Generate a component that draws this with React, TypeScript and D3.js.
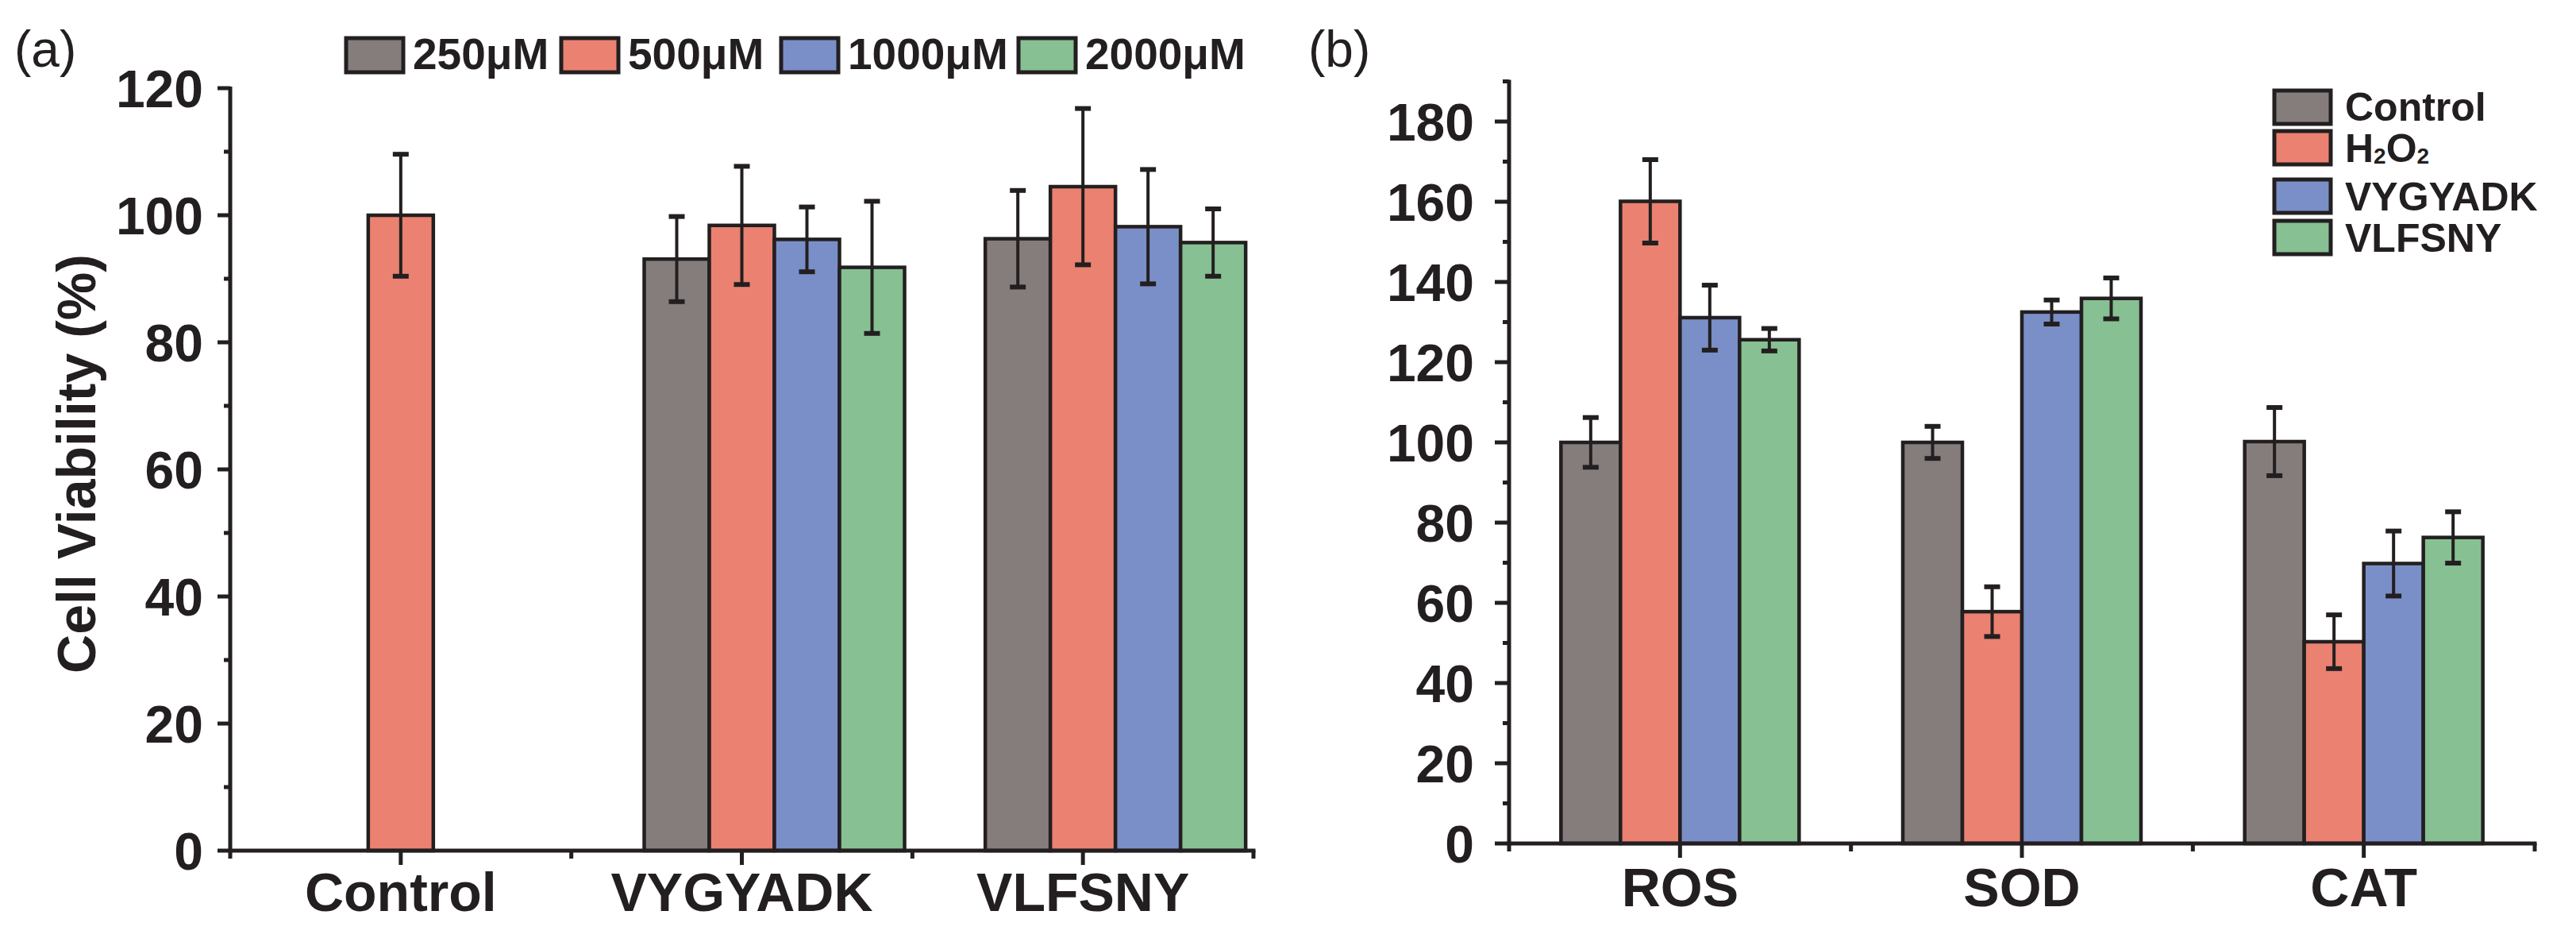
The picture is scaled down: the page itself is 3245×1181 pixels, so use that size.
import React from "react";
import * as d3 from "d3";

// ---------- Panel (a) data ----------
const catsA = ["Control", "VYGYADK", "VLFSNY"];
const seriesA = ["250μM", "500μM", "1000μM", "2000μM"];
const valsA: (number | null)[][] = [
  [null, 93.1, 96.3],
  [100.0, 98.4, 104.5],
  [null, 96.2, 98.2],
  [null, 91.8, 95.7],
];
const errsA: (number | null)[][] = [
  [null, 6.7, 7.6],
  [9.6, 9.3, 12.3],
  [null, 5.1, 9.0],
  [null, 10.4, 5.3],
];
const ticksA = [0, 20, 40, 60, 80, 100, 120];
const minorA = [10, 30, 50, 70, 90, 110];

// ---------- Panel (b) data ----------
const catsB = ["ROS", "SOD", "CAT"];
const seriesB = ["Control", "H2O2", "VYGYADK", "VLFSNY"];
const valsB: number[][] = [
  [100, 100, 100.2],
  [160.1, 57.8, 50.3],
  [131.1, 132.5, 69.8],
  [125.6, 135.9, 76.3],
];
const errsB: number[][] = [
  [6.2, 4.0, 8.5],
  [10.4, 6.2, 6.7],
  [8.1, 3.0, 8.1],
  [2.8, 5.1, 6.4],
];
const ticksB = [0, 20, 40, 60, 80, 100, 120, 140, 160, 180];
const minorB = [10, 30, 50, 70, 90, 110, 130, 150, 170, 190];

const colors = ["#857d7c", "#ea8171", "#7a8fc7", "#86c093"];
const ink = "#231f20";
const FONT = "'Liberation Sans', Arial, sans-serif";

const W = 3245;
const H = 1181;

function ErrorBar({ x, y0, y1 }: { x: number; y0: number; y1: number }) {
  return (
    <g stroke={ink}>
      <line x1={x} x2={x} y1={y0} y2={y1} strokeWidth={4} />
      <line x1={x - 10} x2={x + 10} y1={y0} y2={y0} strokeWidth={6} />
      <line x1={x - 10} x2={x + 10} y1={y1} y2={y1} strokeWidth={6} />
    </g>
  );
}

export default function App() {
  // Panel a scales
  const xA = d3.scaleLinear().domain([0.5, 3.5]).range([290, 1579]);
  const yA = d3.scaleLinear().domain([0, 120]).range([1071, 111]);
  const bwA = 82;
  const offA = d3
    .scaleBand<string>()
    .domain(seriesA)
    .range([-1.5 * bwA, 2.5 * bwA])
    .padding(0);

  // Panel b scales
  const xB = d3.scaleLinear().domain([0.5, 3.5]).range([1901, 3193]);
  const yB = d3.scaleLinear().domain([0, 190]).range([1062, 102.5]);
  const bwB = 75;
  const offB = d3
    .scaleBand<string>()
    .domain(seriesB)
    .range([-2 * bwB, 2 * bwB])
    .padding(0);

  const tickFont = 66;
  const catFont = 68;

  return (
    <svg
      width={W}
      height={H}
      style={{ position: "absolute", left: 0, top: 0, background: "#fff" }}
      fontFamily={FONT}
    >
      <rect x={0} y={0} width={W} height={H} fill="#fff" />

      {/* ================= Panel (a) ================= */}
      <text x={18} y={84} fontSize={64} fill={ink}>(a)</text>

      {/* bars */}
      {seriesA.map((s, si) =>
        catsA.map((c, ci) => {
          const v = valsA[si][ci];
          if (v == null) return null;
          const x0 = xA(ci + 1) + (offA(s) as number);
          return (
            <rect
              key={`a-${si}-${ci}`}
              x={x0}
              y={yA(v)}
              width={offA.bandwidth()}
              height={yA(0) - yA(v)}
              fill={colors[si]}
              stroke={ink}
              strokeWidth={4.5}
            />
          );
        })
      )}
      {seriesA.map((s, si) =>
        catsA.map((c, ci) => {
          const v = valsA[si][ci];
          const e = errsA[si][ci];
          if (v == null || e == null) return null;
          const xc = xA(ci + 1) + (offA(s) as number) + offA.bandwidth() / 2;
          return <ErrorBar key={`ae-${si}-${ci}`} x={xc} y0={yA(v + e)} y1={yA(v - e)} />;
        })
      )}

      {/* y axis a */}
      <line x1={xA(0.5)} x2={xA(0.5)} y1={yA(120) - 2} y2={yA(0) + 2.5} stroke={ink} strokeWidth={5} />
      {ticksA.map((t) => (
        <g key={`ta-${t}`}>
          <line x1={xA(0.5) - 16} x2={xA(0.5)} y1={yA(t)} y2={yA(t)} stroke={ink} strokeWidth={5} />
          <text
            x={xA(0.5) - 34}
            y={yA(t)}
            dy="0.36em"
            textAnchor="end"
            fontSize={tickFont}
            fontWeight="bold"
            fill={ink}
          >
            {t}
          </text>
        </g>
      ))}
      {minorA.map((t) => (
        <line key={`ma-${t}`} x1={xA(0.5) - 8} x2={xA(0.5)} y1={yA(t)} y2={yA(t)} stroke={ink} strokeWidth={5} />
      ))}
      <text
        transform={`translate(120, 584) rotate(-90)`}
        textAnchor="middle"
        fontSize={68}
        fontWeight="bold"
        fill={ink}
      >
        Cell Viability (%)
      </text>

      {/* x axis a */}
      <line x1={xA(0.5) - 2.5} x2={xA(3.5) + 2.5} y1={yA(0)} y2={yA(0)} stroke={ink} strokeWidth={5} />
      {[0.5, 1, 1.5, 2, 2.5, 3, 3.5].map((t) => {
        const major = Number.isInteger(t);
        return (
          <line
            key={`xa-${t}`}
            x1={xA(t)}
            x2={xA(t)}
            y1={yA(0)}
            y2={yA(0) + (major ? 18 : 10)}
            stroke={ink}
            strokeWidth={5}
          />
        );
      })}
      {catsA.map((c, ci) => (
        <text
          key={`ca-${c}`}
          x={xA(ci + 1)}
          y={1147}
          textAnchor="middle"
          fontSize={catFont}
          fontWeight="bold"
          fill={ink}
        >
          {c}
        </text>
      ))}

      {/* legend a */}
      {seriesA.map((s, si) => {
        const bx = [436, 707, 984, 1283][si];
        return (
          <g key={`la-${s}`}>
            <rect x={bx} y={48} width={72} height={43} fill={colors[si]} stroke={ink} strokeWidth={5} />
            <text x={bx + 84} y={87} fontSize={55} fontWeight="bold" fill={ink}>
              {s}
            </text>
          </g>
        );
      })}

      {/* ================= Panel (b) ================= */}
      <text x={1648} y={84} fontSize={64} fill={ink}>(b)</text>

      {seriesB.map((s, si) =>
        catsB.map((c, ci) => {
          const v = valsB[si][ci];
          const x0 = xB(ci + 1) + (offB(s) as number);
          return (
            <rect
              key={`b-${si}-${ci}`}
              x={x0}
              y={yB(v)}
              width={offB.bandwidth()}
              height={yB(0) - yB(v)}
              fill={colors[si]}
              stroke={ink}
              strokeWidth={4.5}
            />
          );
        })
      )}
      {seriesB.map((s, si) =>
        catsB.map((c, ci) => {
          const v = valsB[si][ci];
          const e = errsB[si][ci];
          const xc = xB(ci + 1) + (offB(s) as number) + offB.bandwidth() / 2;
          return <ErrorBar key={`be-${si}-${ci}`} x={xc} y0={yB(v + e)} y1={yB(v - e)} />;
        })
      )}

      {/* y axis b */}
      <line x1={xB(0.5)} x2={xB(0.5)} y1={yB(190) - 2} y2={yB(0) + 2.5} stroke={ink} strokeWidth={5} />
      {ticksB.map((t) => (
        <g key={`tb-${t}`}>
          <line x1={xB(0.5) - 18} x2={xB(0.5)} y1={yB(t)} y2={yB(t)} stroke={ink} strokeWidth={5} />
          <text
            x={xB(0.5) - 44}
            y={yB(t)}
            dy="0.36em"
            textAnchor="end"
            fontSize={tickFont}
            fontWeight="bold"
            fill={ink}
          >
            {t}
          </text>
        </g>
      ))}
      {minorB.map((t) => (
        <line key={`mb-${t}`} x1={xB(0.5) - 8} x2={xB(0.5)} y1={yB(t)} y2={yB(t)} stroke={ink} strokeWidth={5} />
      ))}

      {/* x axis b */}
      <line x1={xB(0.5) - 2.5} x2={xB(3.5) + 2.5} y1={yB(0)} y2={yB(0)} stroke={ink} strokeWidth={5} />
      {[0.5, 1, 1.5, 2, 2.5, 3, 3.5].map((t) => {
        const major = Number.isInteger(t);
        return (
          <line
            key={`xb-${t}`}
            x1={xB(t)}
            x2={xB(t)}
            y1={yB(0)}
            y2={yB(0) + (major ? 18 : 10)}
            stroke={ink}
            strokeWidth={5}
          />
        );
      })}
      {catsB.map((c, ci) => (
        <text
          key={`cb-${c}`}
          x={xB(ci + 1)}
          y={1141}
          textAnchor="middle"
          fontSize={catFont}
          fontWeight="bold"
          fill={ink}
        >
          {c}
        </text>
      ))}

      {/* legend b */}
      {seriesB.map((s, si) => {
        const top = [114, 165, 226, 278][si];
        const base = [152, 204, 265, 317][si];
        return (
          <g key={`lb-${s}`}>
            <rect x={2865} y={top} width={71} height={42} fill={colors[si]} stroke={ink} strokeWidth={5} />
            <text x={2954} y={base} fontSize={50} fontWeight="bold" fill={ink}>
              {s === "H2O2" ? (
                <>
                  H
                  <tspan fontSize={28} dy={2}>2</tspan>
                  <tspan dy={-2}>O</tspan>
                  <tspan fontSize={28} dy={2}>2</tspan>
                </>
              ) : (
                s
              )}
            </text>
          </g>
        );
      })}
    </svg>
  );
}
